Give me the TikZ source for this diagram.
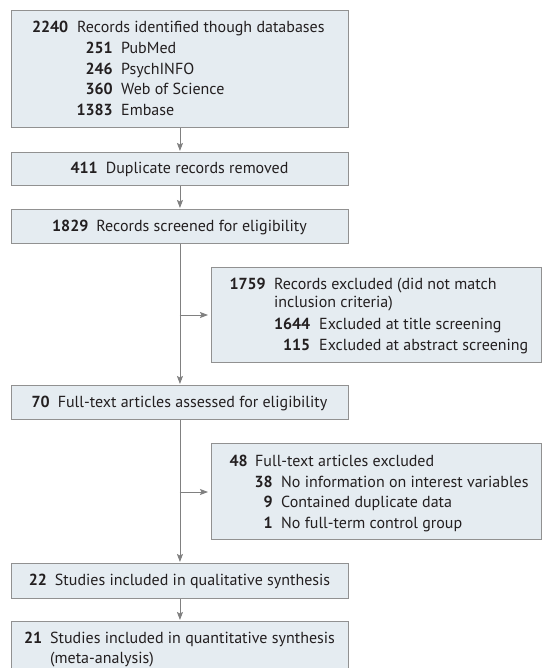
\documentclass[tikz,border=0pt]{standalone}
\usepackage{fontspec}
\setmainfont{PT Sans}
\usetikzlibrary{arrows.meta}
\definecolor{boxfill}{RGB}{229,236,241}
\definecolor{boxline}{RGB}{145,145,145}
\definecolor{connline}{RGB}{128,128,128}
\definecolor{ink}{RGB}{35,31,32}
\newcommand{\numline}[6]{%
  \node[numtxt, anchor=base east] (#1n) at (#2,#4) {#5};
  \node[bodytxt, anchor=base west] (#1t) at (#3,#4) {#6};}
\begin{document}
\begin{tikzpicture}[x=1pt,y=-1pt,
  box/.style={draw=boxline, fill=boxfill, line width=0.9pt, inner sep=0pt, anchor=north west},
  bodytxt/.style={inner sep=0pt, text=ink, font=\fontsize{16}{19}\selectfont},
  numtxt/.style={inner sep=0pt, text=ink, font=\fontsize{16}{19}\selectfont\bfseries},
  conn/.style={draw=connline, line width=0.9pt},
  arr/.style={conn, -{Stealth[length=8pt,width=6pt,inset=1.5pt]}, shorten >=1pt}]
\useasboundingbox (0,0) rectangle (542,668);
% boxes
\node[box, minimum width=337pt, minimum height=117pt] (b1) at (11,10) {};
\node[box, minimum width=337pt, minimum height=33pt] (b2) at (11,152) {};
\node[box, minimum width=337pt, minimum height=34pt] (b3) at (11,209) {};
\node[box, minimum width=330pt, minimum height=95pt] (e1) at (211,267) {};
\node[box, minimum width=337pt, minimum height=34pt] (b4) at (11,385) {};
\node[box, minimum width=330pt, minimum height=96pt] (e2) at (211,443) {};
\node[box, minimum width=337pt, minimum height=35pt] (b5) at (11,563) {};
\node[box, minimum width=337pt, minimum height=70pt] (b6) at (11,621) {};
% box 1 text
\numline{l1}{68.5}{77}{33}{2240}{Records identified though databases}
\numline{l2}{113}{121}{54}{251}{PubMed}
\numline{l3}{113}{121}{75}{246}{PsychINFO}
\numline{l4}{113}{121}{95}{360}{Web of Science}
\numline{l5}{113}{121}{116}{1383}{Embase}
% centered boxes
\node[bodytxt, anchor=base] (b2t) at (179.5,174) {\textbf{411}\hspace{8pt}Duplicate records removed};
\node[bodytxt, anchor=base] (b3t) at (179.5,231) {\textbf{1829}\hspace{8pt}Records screened for eligibility};
\node[bodytxt, anchor=base] (b4t) at (179.5,407) {\textbf{70}\hspace{8pt}Full-text articles assessed for eligibility};
\node[bodytxt, anchor=base] (b5t) at (179.5,585) {\textbf{22}\hspace{8pt}Studies included in qualitative synthesis};
% exclusion 1
\numline{m1}{266}{274}{289}{1759}{Records excluded (did not match}
\node[bodytxt, anchor=base west] (m1b) at (274,307) {inclusion criteria)};
\numline{m2}{310.5}{319}{329}{1644}{Excluded at title screening}
\numline{m3}{310.5}{319}{350}{115}{Excluded at abstract screening}
% exclusion 2
\numline{n1}{248}{255}{466}{48}{Full-text articles excluded}
\numline{n2}{273}{281}{487}{38}{No information on interest variables}
\numline{n3}{273}{281}{507}{9}{Contained duplicate data}
\numline{n4}{273}{281}{528}{1}{No full-term control group}
% final box
\numline{f1}{42.5}{50}{643}{21}{Studies included in quantitative synthesis}
\node[bodytxt, anchor=base west] (f1b) at (50,663) {(meta-analysis)};
% connectors
\draw[arr] (b1.south) -- (b2.north);
\draw[arr] (b2.south) -- (b3.north);
\draw[arr] (b3.south) -- (b4.north);
\coordinate (j1) at (179.5,315);
\draw[arr, shorten >=3pt] (j1) -- (j1 -| e1.west);
\draw[arr] (b4.south) -- (b5.north);
\coordinate (j2) at (179.5,492);
\draw[arr, shorten >=3pt] (j2) -- (j2 -| e2.west);
\draw[arr] (b5.south) -- (b6.north);
\end{tikzpicture}
\end{document}
